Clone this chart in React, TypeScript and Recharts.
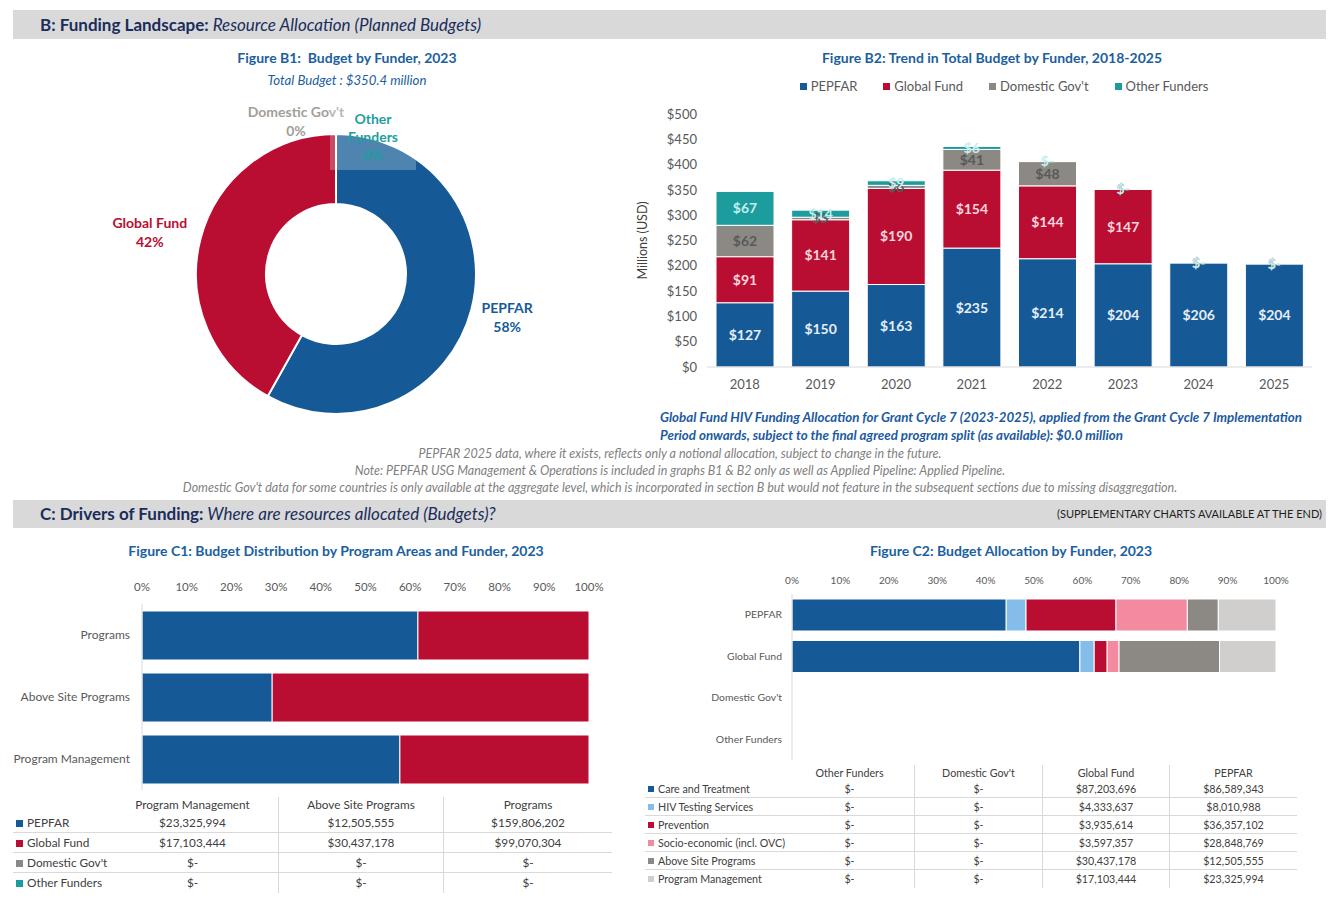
import React from 'react';
import { PieChart, Pie, Cell, BarChart, Bar, XAxis, YAxis, LabelList } from 'recharts';

const FONT = 'Lato, "Open Sans", sans-serif';
const NAVY = '#1a2d5c';
const TITLE = '#1b609e';
const GREY_TXT = '#595959';
const LINE = '#d9d9d9';

// ---------- funders ----------
const funders = ['PEPFAR', 'Global Fund', "Domestic Gov't", 'Other Funders'];
const funderColors = ['#155a96', '#b90e31', '#8c8984', '#1c9c9c'];

// ---------- B1: budget by funder 2023 (US$ millions) ----------
const b1Values = [203.6, 146.8, 0, 0];
const b1LabelColors = ['#155a96', '#b90e31', '#a39e98', '#1f9e9e'];
const b1LabelLines: Record<string, string[]> = {
  PEPFAR: ['PEPFAR'],
  'Global Fund': ['Global Fund'],
  "Domestic Gov't": ["Domestic Gov't"],
  'Other Funders': ['Other', 'Funders'],
};
const b1LabelNudge: Record<string, [number, number]> = {
  PEPFAR: [-3, -3],
  'Global Fund': [-12, 3],
  "Domestic Gov't": [-40, 26],
  'Other Funders': [37, 42],
};

// ---------- B2: trend 2018-2025 (US$ millions) ----------
const years = ['2018', '2019', '2020', '2021', '2022', '2023', '2024', '2025'];
const pepfarBudget = [127, 150, 163, 235, 214, 204, 206, 204];
const gfBudget = [91, 141, 190, 154, 144, 147, 0, 0];
const domBudget = [62, 5, 6, 41, 48, 0, 0, 0];
const otherBudget = [67, 14, 9, 6, 0, 0, 0, 0];
const b2Ticks = [0, 50, 100, 150, 200, 250, 300, 350, 400, 450, 500];
const b2LabelColors = ['#e6eef6', '#f9d6dd', '#595959', '#c4eef0'];

// ---------- C1: program areas by funder 2023 (US$) ----------
const programAreas = ['Programs', 'Above Site Programs', 'Program Management'];
const c1Pepfar = [159806202, 12505555, 23325994];
const c1GF = [99070304, 30437178, 17103444];
const c1Dom = [0, 0, 0];
const c1Other = [0, 0, 0];
const pctTicks = [0, 0.1, 0.2, 0.3, 0.4, 0.5, 0.6, 0.7, 0.8, 0.9, 1];

// ---------- C2: allocation by funder 2023 (US$) ----------
const c2Funders = ['PEPFAR', 'Global Fund', "Domestic Gov't", 'Other Funders'];
const c2Areas = ['Care and Treatment', 'HIV Testing Services', 'Prevention', 'Socio-economic (incl. OVC)', 'Above Site Programs', 'Program Management'];
const c2Colors = ['#155a96', '#85bdea', '#b90e31', '#f48aa0', '#8c8984', '#d0cfcd'];
const careTreatment = [86589343, 87203696, 0, 0];
const hivTesting = [8010988, 4333637, 0, 0];
const prevention = [36357102, 3935614, 0, 0];
const socioEconomic = [28848769, 3597357, 0, 0];
const aboveSite = [12505555, 30437178, 0, 0];
const programMgmt = [23325994, 17103444, 0, 0];

// ---------- derived tables ----------
const b1Data = funders.map((f, i) => ({ name: f, value: b1Values[i] }));
const b2Data = years.map((y, i) => ({ year: y, pepfar: pepfarBudget[i], gf: gfBudget[i], dom: domBudget[i], other: otherBudget[i] }));
const b2Keys = ['pepfar', 'gf', 'dom', 'other'];
const c1Data = programAreas.map((a, i) => ({ name: a, pepfar: c1Pepfar[i], gf: c1GF[i], dom: c1Dom[i], other: c1Other[i] }));
const c1Series = [c1Pepfar, c1GF, c1Dom, c1Other];
const c2Series = [careTreatment, hivTesting, prevention, socioEconomic, aboveSite, programMgmt];
const c2Data = c2Funders.map((f, i) => {
  const row: any = { name: f };
  c2Series.forEach((s, k) => { row['a' + k] = s[i]; });
  return row;
});

const money = (v: number) => (v === 0 ? '$-' : '$' + v.toLocaleString('en-US'));
const pct = (v: number) => Math.round(v * 100) + '%';
const RAD = Math.PI / 180;

function renderB1Label(props: any) {
  const { cx, cy, midAngle, outerRadius, percent, index } = props;
  const name = funders[index];
  const r = outerRadius + 40;
  const [dx, dy] = b1LabelNudge[name] || [0, 0];
  const x = cx + r * Math.cos(-midAngle * RAD) + dx;
  const y = cy + r * Math.sin(-midAngle * RAD) + dy;
  const lines = [...b1LabelLines[name], Math.round((percent || 0) * 100) + '%'];
  const lh = name === 'Other Funders' ? 18 : 19;
  const top = y - ((lines.length - 1) * lh) / 2;
  return (
    <g key={'lbl' + index}>
      {name === 'Other Funders' && (
        <rect x={x - 43} y={y - 34} width={86} height={68} fill="#ffffff" fillOpacity={0.25} />
      )}
      <text x={x} y={top} textAnchor="middle" dominantBaseline="central" fill={b1LabelColors[index]} fontSize={14} fontWeight={700} fontFamily={FONT}>
        {lines.map((l, i) => (
          <tspan key={i} x={x} y={top + i * lh}>{l}</tspan>
        ))}
      </text>
    </g>
  );
}

function CatTick(props: any) {
  const { x, y, payload, fontSize } = props;
  return (
    <text x={x} y={y} dy="0.35em" textAnchor="end" fill={GREY_TXT} fontSize={fontSize} fontFamily={FONT}>
      {payload.value}
    </text>
  );
}

function CText({ cx, cy, children, style }: any) {
  return (
    <div style={{ position: 'absolute', left: cx - 600, top: cy - 10, width: 1200, height: 20, lineHeight: '20px', textAlign: 'center', whiteSpace: 'pre', ...style }}>
      {children}
    </div>
  );
}
function LText({ x, cy, children, style }: any) {
  return (
    <div style={{ position: 'absolute', left: x, top: cy - 10, height: 20, lineHeight: '20px', whiteSpace: 'pre', ...style }}>
      {children}
    </div>
  );
}

function SectionHeader({ top, height, bold, italic, right }: any) {
  return (
    <div style={{ position: 'absolute', left: 13, top, width: 1313, height, background: '#d9d9d9', color: NAVY }}>
      <div style={{ position: 'absolute', left: 27, top: 0, height, lineHeight: height + 'px', fontSize: 17, whiteSpace: 'pre' }}>
        <span style={{ fontWeight: 700 }}>{bold}</span>
        <span style={{ fontStyle: 'italic' }}>{' ' + italic}</span>
      </div>
      {right && (
        <div style={{ position: 'absolute', right: 4, top: 0, height, lineHeight: height + 'px', fontSize: 11, color: '#1f1f1f' }}>{right}</div>
      )}
    </div>
  );
}

function Swatch({ color, size }: any) {
  return <span style={{ display: 'inline-block', width: size, height: size, background: color, marginRight: 4, verticalAlign: 'middle', position: 'relative', top: -1 }} />;
}

function C1Table() {
  const cols = [2, 1, 0]; // Program Management, Above Site Programs, Programs
  const widths = [94, 171, 165, 169];
  const cell = (ci: number, content: any) => (
    <div key={ci} style={{ width: widths[ci], textAlign: ci === 0 ? 'left' : 'center', borderLeft: ci >= 2 ? `1px solid ${LINE}` : 'none', boxSizing: 'border-box', whiteSpace: 'nowrap' }}>{content}</div>
  );
  return (
    <div style={{ position: 'absolute', left: 13, top: 797, width: 599, fontSize: 11.8, color: '#404040' }}>
      <div style={{ display: 'flex', height: 16, lineHeight: '16px' }}>
        {cell(0, '')}
        {cols.map((c, k) => cell(k + 1, programAreas[c]))}
      </div>
      {funders.map((f, fi) => (
        <div key={f} style={{ display: 'flex', height: 20, lineHeight: '20px', borderBottom: fi < 3 ? `1px solid ${LINE}` : 'none', boxSizing: 'border-box' }}>
          {cell(0, <span style={{ paddingLeft: 3 }}><Swatch color={funderColors[fi]} size={7} />{f}</span>)}
          {cols.map((c, k) => cell(k + 1, money(c1Series[fi][c])))}
        </div>
      ))}
    </div>
  );
}

function C2Table() {
  const order = [3, 2, 1, 0]; // Other, Domestic, GF, PEPFAR
  const widths = [140, 129, 128, 127, 128];
  const cell = (ci: number, content: any) => (
    <div key={ci} style={{ width: widths[ci], textAlign: ci === 0 ? 'left' : 'center', borderLeft: ci >= 2 ? `1px solid ${LINE}` : 'none', boxSizing: 'border-box', whiteSpace: 'nowrap' }}>{content}</div>
  );
  return (
    <div style={{ position: 'absolute', left: 645, top: 765, width: 652, fontSize: 10.7, color: '#404040' }}>
      <div style={{ display: 'flex', height: 15, lineHeight: '15px' }}>
        {cell(0, '')}
        {order.map((o, k) => cell(k + 1, c2Funders[o]))}
      </div>
      {c2Areas.map((a, ai) => (
        <div key={a} style={{ display: 'flex', height: 18, lineHeight: '18px', borderBottom: ai < 5 ? `1px solid ${LINE}` : 'none', boxSizing: 'border-box' }}>
          {cell(0, <span style={{ paddingLeft: 3 }}><Swatch color={c2Colors[ai]} size={6} />{a}</span>)}
          {order.map((o, k) => cell(k + 1, money(c2Series[ai][o])))}
        </div>
      ))}
    </div>
  );
}

export default function App() {
  const tickStyle = { fill: GREY_TXT, fontFamily: FONT };
  return (
    <div style={{ position: 'absolute', left: 0, top: 0, width: 1339, height: 900, background: '#fff', fontFamily: FONT, overflow: 'hidden' }}>
      <SectionHeader top={10} height={29} bold="B: Funding Landscape:" italic="Resource Allocation (Planned Budgets)" />

      {/* ---------- B1 ---------- */}
      <CText cx={347} cy={58} style={{ color: TITLE, fontWeight: 700, fontSize: 14 }}>{'Figure B1:  Budget by Funder, 2023'}</CText>
      <CText cx={347} cy={80} style={{ color: TITLE, fontStyle: 'italic', fontSize: 13.2 }}>{'Total Budget : $350.4 million'}</CText>
      <div style={{ position: 'absolute', left: 0, top: 45 }}>
        <PieChart width={620} height={370}>
          <Pie
            data={b1Data}
            dataKey="value"
            nameKey="name"
            cx={331}
            cy={224}
            innerRadius={70}
            outerRadius={140}
            startAngle={90}
            endAngle={-270}
            stroke="#ffffff"
            strokeWidth={2}
            label={renderB1Label}
            labelLine={false}
            isAnimationActive={false}
          >
            {b1Data.map((d, i) => (
              <Cell key={d.name} fill={funderColors[i]} />
            ))}
          </Pie>
        </PieChart>
      </div>

      {/* ---------- B2 ---------- */}
      <CText cx={992} cy={58} style={{ color: TITLE, fontWeight: 700, fontSize: 14 }}>{'Figure B2: Trend in Total Budget by Funder, 2018-2025'}</CText>
      <div style={{ position: 'absolute', left: 629, top: 78, width: 750, height: 16, display: 'flex', justifyContent: 'center', gap: 26, fontSize: 13, lineHeight: '16px', color: GREY_TXT }}>
        {funders.map((f, i) => (
          <span key={f}><Swatch color={funderColors[i]} size={7} />{f}</span>
        ))}
      </div>
      <div style={{ position: 'absolute', left: 630, top: 100 }}>
        <BarChart width={700} height={300} data={b2Data} margin={{ top: 14, right: 18, bottom: 0, left: 0 }}>
          <XAxis dataKey="year" height={33} axisLine={{ stroke: LINE }} tickLine={false} tickMargin={7} tick={{ ...tickStyle, fontSize: 13 }} interval={0} />
          <YAxis
            width={77}
            domain={[0, 500]}
            ticks={b2Ticks}
            tickFormatter={(v: number) => '$' + v}
            axisLine={false}
            tickLine={false}
            tickMargin={4}
            tick={{ ...tickStyle, fontSize: 13 }}
            label={{ value: 'Millions (USD)', angle: -90, position: 'insideLeft', offset: 13, style: { fill: '#404040', fontSize: 12.5, fontFamily: FONT, textAnchor: 'middle' } }}
          />
          {b2Keys.map((k, i) => (
            <Bar key={k} dataKey={k} stackId="s" fill={funderColors[i]} stroke="#ffffff" strokeWidth={1} barSize={58} minPointSize={i === 0 ? 0 : 0.3} isAnimationActive={false}>
              <LabelList
                dataKey={k}
                position="center"
                formatter={(v: any) => (Number(v) === 0 ? '$-' : '$' + v)}
                style={{ fill: b2LabelColors[i], fontSize: 14, fontWeight: 700, fontFamily: FONT }}
              />
            </Bar>
          ))}
        </BarChart>
      </div>

      {/* ---------- footnotes ---------- */}
      <LText x={660} cy={417} style={{ color: '#1b5aa0', fontStyle: 'italic', fontWeight: 700, fontSize: 13.3 }}>{'Global Fund HIV Funding Allocation for Grant Cycle 7 (2023-2025), applied from the Grant Cycle 7 Implementation'}</LText>
      <LText x={660} cy={435} style={{ color: '#1b5aa0', fontStyle: 'italic', fontWeight: 700, fontSize: 13.3 }}>{'Period onwards, subject to the final agreed program split (as available): $0.0 million'}</LText>
      <CText cx={680} cy={454} style={{ color: '#7f7f7f', fontStyle: 'italic', fontSize: 12.5 }}>{'PEPFAR 2025 data, where it exists, reflects only a notional allocation, subject to change in the future.'}</CText>
      <CText cx={680} cy={471} style={{ color: '#7f7f7f', fontStyle: 'italic', fontSize: 12.5 }}>{'Note: PEPFAR USG Management & Operations is included in graphs B1 & B2 only as well as Applied Pipeline: Applied Pipeline.'}</CText>
      <CText cx={680} cy={488} style={{ color: '#7f7f7f', fontStyle: 'italic', fontSize: 12.5 }}>{"Domestic Gov't data for some countries is only available at the aggregate level, which is incorporated in section B but would not feature in the subsequent sections due to missing disaggregation."}</CText>

      <SectionHeader top={500} height={28} bold="C: Drivers of Funding:" italic="Where are resources allocated (Budgets)?" right="(SUPPLEMENTARY CHARTS AVAILABLE AT THE END)" />

      {/* ---------- C1 ---------- */}
      <CText cx={336} cy={551} style={{ color: TITLE, fontWeight: 700, fontSize: 14 }}>{'Figure C1: Budget Distribution by Program Areas and Funder, 2023'}</CText>
      <div style={{ position: 'absolute', left: 0, top: 570 }}>
        <BarChart width={620} height={228} data={c1Data} layout="vertical" stackOffset="expand" margin={{ top: 0, right: 31, bottom: 8, left: 0 }}>
          <XAxis type="number" orientation="top" height={34} domain={[0, 1]} ticks={pctTicks} tickFormatter={pct} axisLine={false} tickLine={false} tickMargin={7} interval={0} tick={{ ...tickStyle, fontSize: 11.5 }} />
          <YAxis type="category" dataKey="name" width={142} axisLine={{ stroke: LINE }} tickLine={false} tickMargin={6} tick={<CatTick fontSize={12} />} />
          {b2Keys.map((k, i) => (
            <Bar key={k} dataKey={k} stackId="s" fill={funderColors[i]} stroke="#ffffff" strokeWidth={1} barSize={49} isAnimationActive={false} />
          ))}
        </BarChart>
      </div>
      <C1Table />

      {/* ---------- C2 ---------- */}
      <CText cx={1011} cy={551} style={{ color: TITLE, fontWeight: 700, fontSize: 14 }}>{'Figure C2: Budget Allocation by Funder, 2023'}</CText>
      <div style={{ position: 'absolute', left: 640, top: 565 }}>
        <BarChart width={660} height={200} data={c2Data} layout="vertical" stackOffset="expand" margin={{ top: 0, right: 24, bottom: 5, left: 0 }}>
          <XAxis type="number" orientation="top" height={29} domain={[0, 1]} ticks={pctTicks} tickFormatter={pct} axisLine={false} tickLine={false} tickMargin={4} interval={0} tick={{ ...tickStyle, fontSize: 10 }} />
          <YAxis type="category" dataKey="name" width={152} axisLine={{ stroke: LINE }} tickLine={false} tickMargin={4} tick={<CatTick fontSize={10.4} />} />
          {c2Areas.map((a, i) => (
            <Bar key={a} dataKey={'a' + i} name={a} stackId="s" fill={c2Colors[i]} stroke="#ffffff" strokeWidth={1} barSize={32} isAnimationActive={false} />
          ))}
        </BarChart>
      </div>
      <C2Table />
    </div>
  );
}
